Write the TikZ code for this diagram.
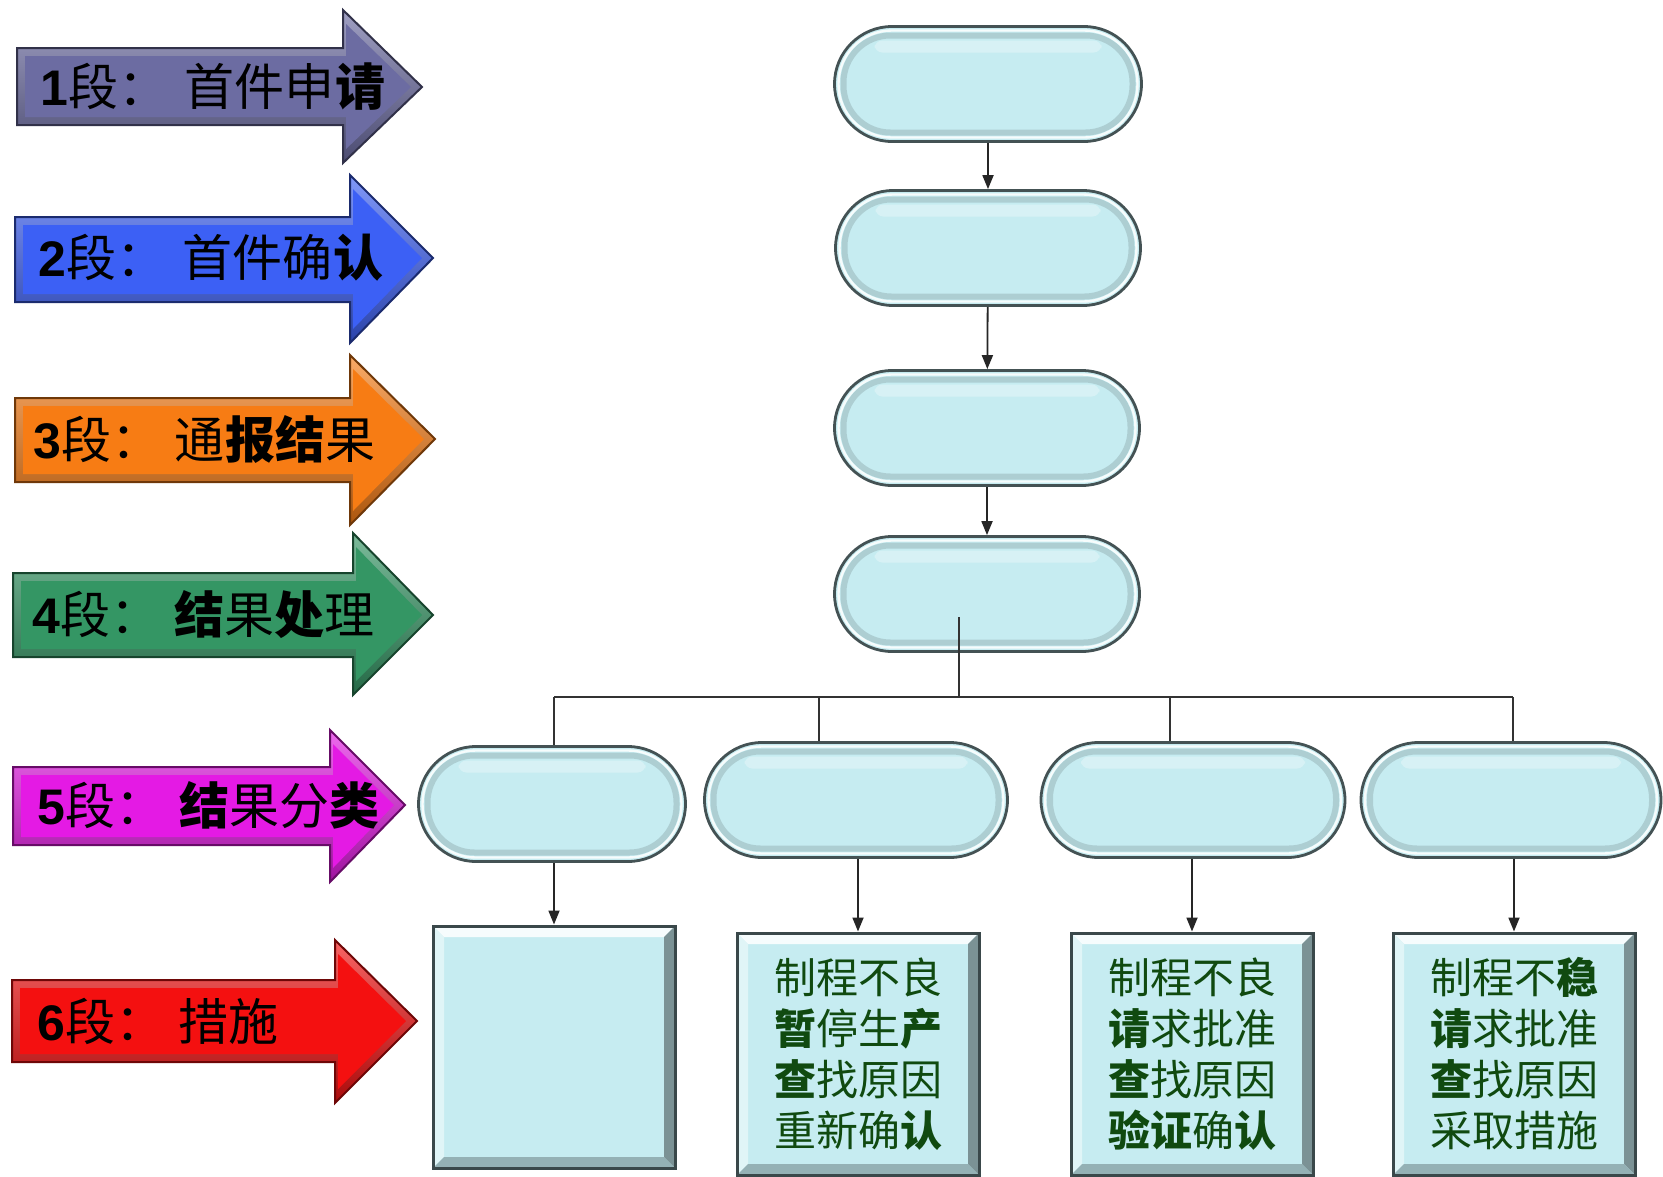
\documentclass[tikz,border=0pt]{standalone}
\usepackage{fontspec}
\newfontfamily\cjk{Noto Sans CJK SC}
\newfontfamily\arialf{Liberation Sans}
\usetikzlibrary{shapes.misc,arrows.meta,calc}
\definecolor{pillfill}{RGB}{198,236,241}
\definecolor{pillline}{RGB}{68,82,84}
\definecolor{boxline}{RGB}{58,72,74}
\definecolor{txtgreen}{RGB}{16,74,16}
\definecolor{cA}{RGB}{108,108,162}
\definecolor{cB}{RGB}{60,96,245}
\definecolor{cC}{RGB}{247,124,20}
\definecolor{cD}{RGB}{52,150,100}
\definecolor{cE}{RGB}{228,26,228}
\definecolor{cF}{RGB}{244,16,16}
\newcommand\stgarrow[9]{%
  \path[draw=#9!45!black, line width=2pt, line join=miter, top color=#9!65!white, middle color=#9, bottom color=#9!70!black]
    (#1,#2) -- (#4,#2) -- (#4,#5) -- (#7,#8) -- (#4,#6) -- (#4,#3) -- (#1,#3) -- cycle;
  \fill[#9] ({#1+8},{#2+8}) -- ({#4+3},{#2+8}) -- ({#4+3},{#5+14}) -- ({#7-11},#8) -- ({#4+3},{#6-14}) -- ({#4+3},{#3-8}) -- ({#1+8},{#3-8}) -- cycle;
}
\tikzset{
  pill/.style={rounded rectangle, minimum width=#1, minimum height=115pt, inner sep=0pt,
    draw=pillline, line width=2.8pt, fill=pillfill,
    path picture={
      \draw[line width=6pt, draw=pillline!55!pillfill, opacity=0.35, rounded corners=47pt]
        ([shift={(9pt,9pt)}]path picture bounding box.south west) rectangle ([shift={(-9pt,-9pt)}]path picture bounding box.north east);
      \draw[line width=2.4pt, white, opacity=0.85, rounded corners=53pt]
        ([shift={(4pt,4pt)}]path picture bounding box.south west) rectangle ([shift={(-4pt,-4pt)}]path picture bounding box.north east);
      \fill[white, opacity=0.3, rounded corners=8pt]
        ([shift={(40pt,-14pt)}]path picture bounding box.north west) rectangle ([shift={(-40pt,-26pt)}]path picture bounding box.north east);
    }},
  stgbox/.style={rectangle, minimum width=242pt, minimum height=242pt, inner sep=0pt,
    draw=boxline, line width=3pt, fill=pillfill, align=center, text=txtgreen,
    font=\cjk\fontsize{42pt}{51pt}\selectfont,
    path picture={
      \fill[white!85!pillfill] (path picture bounding box.north west) -- (path picture bounding box.north east)
        -- ([shift={(-11pt,-11pt)}]path picture bounding box.north east) -- ([shift={(11pt,-11pt)}]path picture bounding box.north west) -- cycle;
      \fill[white!45!pillfill] (path picture bounding box.north west) -- (path picture bounding box.south west)
        -- ([shift={(11pt,11pt)}]path picture bounding box.south west) -- ([shift={(11pt,-11pt)}]path picture bounding box.north west) -- cycle;
      \fill[black!38!pillfill] (path picture bounding box.north east) -- (path picture bounding box.south east)
        -- ([shift={(-11pt,11pt)}]path picture bounding box.south east) -- ([shift={(-11pt,-11pt)}]path picture bounding box.north east) -- cycle;
      \fill[black!25!pillfill] (path picture bounding box.south west) -- (path picture bounding box.south east)
        -- ([shift={(-11pt,11pt)}]path picture bounding box.south east) -- ([shift={(11pt,11pt)}]path picture bounding box.south west) -- cycle;
    }},
  lbl/.style={anchor=west, inner sep=0pt, text=black, font=\cjk\fontsize{50pt}{60pt}\selectfont},
  conn/.style={line width=1.8pt, draw=black!85, -{Triangle[length=14pt,width=11pt]}},
  plain/.style={line width=1.8pt, draw=black!80}
}
\newcommand\dg[1]{{\arialf\bfseries #1}}
\begin{document}
\begin{tikzpicture}[x=1pt,y=-1pt]
\fill[white] (0,0) rectangle (1663,1176);
\useasboundingbox (0,0) rectangle (1663,1176);

% stage arrows
\stgarrow{17}{48}{125}{343}{10}{163}{422}{87}{cA}
\stgarrow{15}{217}{302}{350}{175}{343}{433}{258}{cB}
\stgarrow{15}{398}{482}{350}{355}{525}{435}{439}{cC}
\stgarrow{13}{573}{657}{353}{533}{695}{433}{615}{cD}
\stgarrow{13}{767}{845}{330}{730}{882}{405}{805}{cE}
\stgarrow{12}{980}{1062}{335}{940}{1103}{417}{1021}{cF}

\node[lbl] (t1) at (40,87) {\dg{1}段：\hspace{17pt}首件申{\bfseries 请}};
\node[lbl] (t2) at (38,258) {\dg{2}段：\hspace{17pt}首件确{\bfseries 认}};
\node[lbl] (t3) at (33,439) {\dg{3}段：\hspace{14pt}通{\bfseries 报结}果};
\node[lbl] (t4) at (32,615) {\dg{4}段：\hspace{14pt}{\bfseries 结}果{\bfseries 处}理};
\node[lbl] (t5) at (37,805) {\dg{5}段：\hspace{14pt}{\bfseries 结}果分{\bfseries 类}};
\node[lbl] (t6) at (37,1021) {\dg{6}段：\hspace{14pt}措施};

% main column pills
\node[pill=307pt] (p1) at (988,84) {};
\node[pill=305pt] (p2) at (988,248) {};
\node[pill=305pt] (p3) at (987,428) {};
\node[pill=305pt] (p4) at (987,594) {};

% result pills
\node[pill=267pt] (pa) at (552,804) {};
\node[pill=303pt] (pb) at (856,800) {};
\node[pill=304pt] (pc) at (1193,800) {};
\node[pill=300pt] (pd) at (1511,800) {};

% action boxes
\node[stgbox] (ba) at (554,1047) {};
\node[stgbox] (bb) at (858,1054) {制程不良\\{\bfseries 暂}停生{\bfseries 产}\\{\bfseries 查}找原因\\重新确{\bfseries 认}};
\node[stgbox] (bc) at (1192,1054) {制程不良\\{\bfseries 请}求批准\\{\bfseries 查}找原因\\{\bfseries 验证}确{\bfseries 认}};
\node[stgbox] (bd) at (1514,1054) {制程不{\bfseries 稳}\\{\bfseries 请}求批准\\{\bfseries 查}找原因\\采取措施};

% connectors
\draw[conn] (p1) -- (p2);
\draw[conn] (p2) -- (p3);
\draw[conn] (p3) -- (p4);

\coordinate (stem) at (959,617);
\coordinate (busl) at (554,697);
\coordinate (busr) at (1513,697);
\coordinate (dropb) at (819,697);
\coordinate (dropc) at (1170,697);
\draw[plain] (stem) -- (stem |- busl);
\draw[plain] (busl) -- (busr);
\draw[plain] (busl) -- (busl |- pa.north);
\draw[plain] (dropb) -- (dropb |- pb.north);
\draw[plain] (dropc) -- (dropc |- pc.north);
\draw[plain] (busr) -- (busr |- pd.north);

\draw[conn] (ba |- pa.south) -- (ba.north);
\draw[conn] (bb |- pb.south) -- (bb.north);
\draw[conn] (bc |- pc.south) -- (bc.north);
\draw[conn] (bd |- pd.south) -- (bd.north);
\end{tikzpicture}
\end{document}
